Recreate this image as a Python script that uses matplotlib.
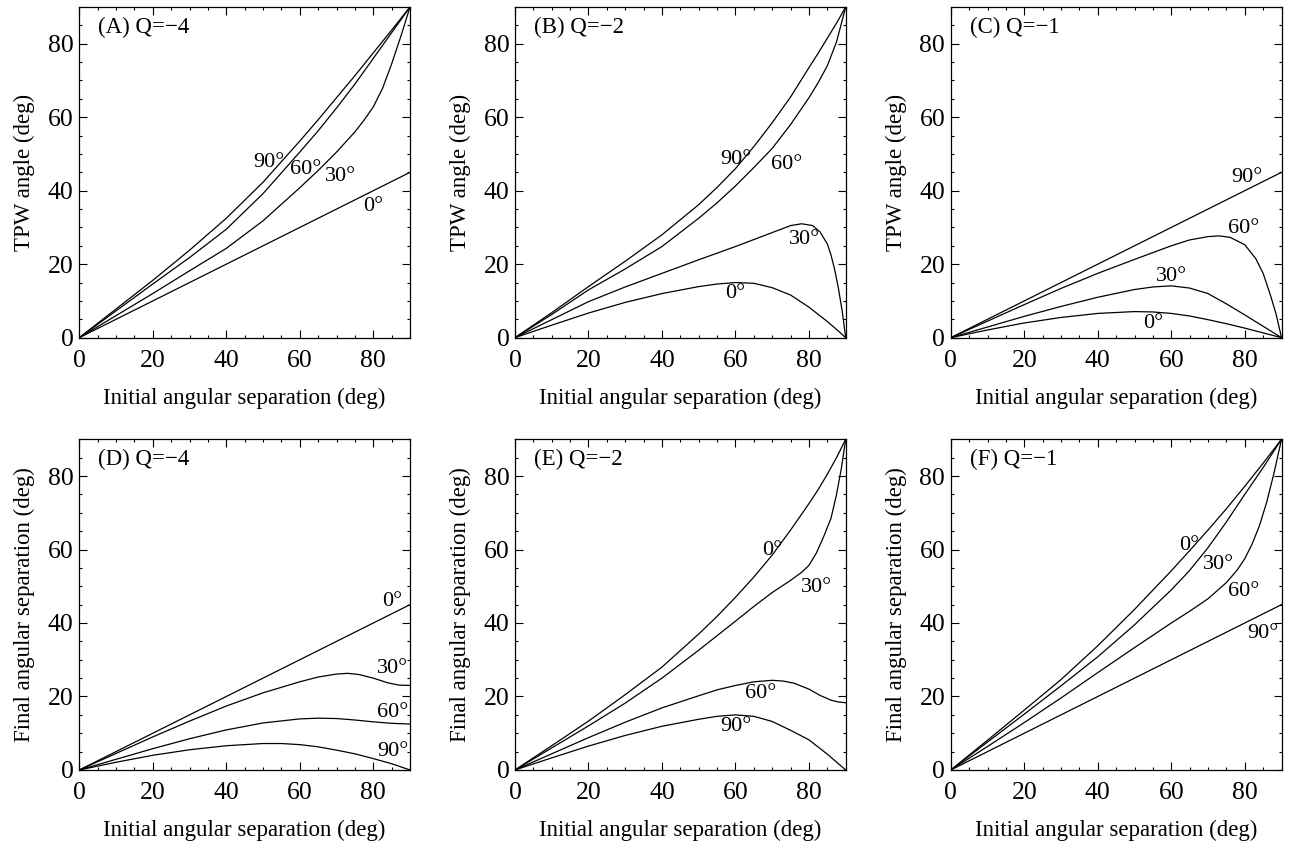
import numpy as np
import matplotlib
matplotlib.use('Agg')
import matplotlib.pyplot as plt
from matplotlib.ticker import MultipleLocator

plt.rcParams['font.family'] = ['Liberation Serif', 'DejaVu Serif']
plt.rcParams['font.size'] = 16.5

# ---- (A) Q=-4 : TPW angle ----
A0_x = [0, 90]
A0_y = [0, 45]
A30_x = [0, 10, 20, 30, 40, 50, 60, 65, 70, 75, 77.5, 80, 82.5, 85, 87.5, 90]
A30_y = [0, 6.0, 12.0, 18.2, 24.3, 31.8, 40.8, 45.5, 50.5, 56.0, 59.2, 62.8, 67.8, 74.5, 82.0, 90]
A60_x = [0, 10, 20, 30, 40, 50, 60, 65, 70, 75, 80, 85, 90]
A60_y = [0, 7.3, 14.6, 21.8, 29.5, 39.2, 50.5, 56.3, 62.5, 69.0, 76.0, 83.0, 90]
A90_x = [0, 10, 20, 30, 40, 50, 60, 65, 70, 75, 80, 85, 90]
A90_y = [0, 7.8, 15.6, 23.8, 32.5, 42.3, 53.5, 59.3, 65.3, 71.3, 77.5, 83.7, 90]

# ---- (B) Q=-2 : TPW angle ----
B0_x = [0, 10, 20, 30, 40, 50, 55, 60, 65, 70, 75, 80, 85, 88, 90]
B0_y = [0, 3.4, 6.7, 9.6, 12.0, 13.9, 14.6, 15.0, 14.8, 13.6, 11.6, 8.3, 4.4, 1.8, 0]
B30_x = [0, 10, 20, 30, 40, 50, 60, 70, 75, 78, 81, 83, 85, 86, 87, 88, 89, 90]
B30_y = [0, 4.9, 9.8, 13.8, 17.5, 21.2, 24.8, 28.6, 30.5, 31.0, 30.5, 28.8, 25.5, 22.5, 18.5, 13.5, 7.5, 0]
B60_x = [0, 10, 20, 30, 40, 50, 55, 60, 65, 70, 75, 80, 82.5, 85, 87.5, 90]
B60_y = [0, 6.3, 13.0, 18.7, 24.8, 32.5, 36.7, 41.3, 46.3, 51.5, 58.0, 65.3, 69.4, 74.0, 80.5, 90]
B90_x = [0, 10, 20, 30, 40, 50, 55, 60, 65, 70, 75, 80, 82.5, 85, 87.5, 90]
B90_y = [0, 6.8, 13.9, 20.8, 28.0, 36.2, 40.9, 46.0, 52.0, 58.5, 65.5, 73.5, 77.4, 81.5, 85.6, 90]

# ---- (C) Q=-1 : TPW angle ----
C0_x = [0, 10, 20, 30, 40, 50, 55, 60, 65, 70, 75, 80, 85, 90]
C0_y = [0, 2.1, 4.0, 5.5, 6.6, 7.1, 7.0, 6.6, 5.9, 4.9, 3.8, 2.6, 1.3, 0]
C30_x = [0, 10, 20, 30, 40, 50, 55, 60, 65, 70, 75, 80, 85, 90]
C30_y = [0, 2.9, 5.8, 8.5, 11.0, 13.1, 13.8, 14.1, 13.5, 12.0, 9.2, 6.2, 3.1, 0]
C60_x = [0, 10, 20, 30, 40, 50, 60, 65, 70, 73, 76, 80, 83, 85, 87, 88.5, 90]
C60_y = [0, 4.5, 9.0, 13.4, 17.5, 21.3, 25.0, 26.6, 27.5, 27.7, 27.3, 25.3, 21.5, 17.5, 11.5, 6.5, 0]
C90_x = [0, 90]
C90_y = [0, 45]

# ---- (D) Q=-4 : final angular separation ----
D0_x = [0, 90]
D0_y = [0, 45]
D30_x = [0, 10, 20, 30, 40, 50, 60, 65, 70, 73, 76, 80, 84, 87, 90]
D30_y = [0, 4.5, 9.0, 13.3, 17.4, 21.0, 24.0, 25.3, 26.1, 26.3, 26.0, 25.0, 23.7, 23.1, 23.0]
D60_x = [0, 10, 20, 30, 40, 50, 60, 65, 70, 75, 80, 85, 90]
D60_y = [0, 2.9, 5.8, 8.5, 10.9, 12.8, 13.9, 14.1, 14.0, 13.6, 13.1, 12.7, 12.5]
D90_x = [0, 10, 20, 30, 40, 50, 55, 60, 65, 70, 75, 80, 85, 90]
D90_y = [0, 2.1, 4.0, 5.5, 6.6, 7.2, 7.2, 6.9, 6.3, 5.4, 4.4, 3.1, 1.7, 0]

# ---- (E) Q=-2 : final angular separation ----
E0_x = [0, 10, 20, 30, 40, 50, 55, 60, 65, 70, 75, 80, 82.5, 85, 87.5, 90]
E0_y = [0, 6.6, 13.3, 20.5, 28.0, 37.0, 41.8, 47.0, 52.5, 58.5, 65.3, 72.5, 76.3, 80.5, 85.0, 90]
E30_x = [0, 10, 20, 30, 40, 50, 60, 65, 70, 75, 78, 80, 82, 84, 86, 87.5, 88.8, 90]
E30_y = [0, 6.0, 12.0, 18.2, 25.0, 32.6, 40.5, 44.5, 48.3, 51.6, 53.8, 55.7, 59.0, 63.5, 68.5, 75.0, 82.0, 90]
E60_x = [0, 10, 20, 30, 40, 50, 55, 60, 65, 70, 73, 76, 80, 83, 86, 88, 90]
E60_y = [0, 4.4, 8.8, 13.0, 16.9, 20.2, 21.8, 23.0, 24.0, 24.4, 24.2, 23.6, 22.0, 20.3, 19.0, 18.5, 18.3]
E90_x = [0, 10, 20, 30, 40, 50, 55, 60, 65, 70, 75, 80, 85, 90]
E90_y = [0, 3.3, 6.5, 9.4, 11.9, 13.8, 14.6, 15.0, 14.6, 13.2, 10.8, 8.2, 4.3, 0]

# ---- (F) Q=-1 : final angular separation ----
F0_x = [0, 10, 20, 30, 40, 50, 60, 65, 70, 75, 80, 85, 90]
F0_y = [0, 8.1, 16.3, 24.6, 33.8, 43.7, 54.2, 59.7, 65.3, 71.1, 77.2, 83.5, 90]
F30_x = [0, 10, 20, 30, 40, 50, 60, 65, 70, 75, 80, 85, 90]
F30_y = [0, 7.6, 15.2, 22.9, 30.8, 39.5, 49.0, 54.3, 60.5, 67.5, 75.0, 82.3, 90]
F60_x = [0, 10, 20, 30, 40, 50, 60, 65, 70, 75, 78, 80, 82, 84, 86, 88, 89, 90]
F60_y = [0, 6.4, 12.9, 19.6, 26.5, 33.3, 40.0, 43.2, 46.6, 51.0, 54.5, 57.5, 61.5, 66.5, 73.0, 81.0, 85.5, 90]
F90_x = [0, 90]
F90_y = [0, 45]

panel_titles = ['(A) Q=\u22124', '(B) Q=\u22122', '(C) Q=\u22121',
                '(D) Q=\u22124', '(E) Q=\u22122', '(F) Q=\u22121']
curve_names = ['0\u00b0', '30\u00b0', '60\u00b0', '90\u00b0']
xlabel = 'Initial angular separation (deg)'
ylabels = ['TPW angle (deg)', 'Final angular separation (deg)']

panels = [
    [(A0_x, A0_y), (A30_x, A30_y), (A60_x, A60_y), (A90_x, A90_y)],
    [(B0_x, B0_y), (B30_x, B30_y), (B60_x, B60_y), (B90_x, B90_y)],
    [(C0_x, C0_y), (C30_x, C30_y), (C60_x, C60_y), (C90_x, C90_y)],
    [(D0_x, D0_y), (D30_x, D30_y), (D60_x, D60_y), (D90_x, D90_y)],
    [(E0_x, E0_y), (E30_x, E30_y), (E60_x, E60_y), (E90_x, E90_y)],
    [(F0_x, F0_y), (F30_x, F30_y), (F60_x, F60_y), (F90_x, F90_y)],
]

# label positions (data coords, centre) for 0, 30, 60, 90 deg
label_pos = [
    [(80, 35.6), (71, 43.8), (61.6, 45.9), (51.5, 47.7)],
    [(59.8, 12.1), (78.9, 26.6), (73.9, 47.2), (60, 48.6)],
    [(55.1, 3.9), (60.1, 16.6), (79.8, 29.6), (80.5, 43.6)],
    [(85.2, 45.8), (85.2, 27.7), (85.2, 15.7), (85.2, 5.0)],
    [(70, 59.8), (82, 49.7), (66.8, 20.7), (60, 11.8)],
    [(64.8, 61), (72.8, 55.8), (79.8, 48.5), (85, 37.2)],
]

fig = plt.figure(figsize=(12.89, 8.48), dpi=100)
lefts = [0.0615, 0.3995, 0.7376]
bottoms = [0.6018, 0.092]
w, h = 0.2566, 0.390

for i in range(6):
    row, col = divmod(i, 3)
    ax = fig.add_axes([lefts[col], bottoms[row], w, h])
    for (x, y) in panels[i]:
        ax.plot(x, y, color='black', linewidth=0.9)
    for name, (lx, ly) in zip(curve_names, label_pos[i]):
        ax.text(lx, ly, name, ha='center', va='center', fontsize=16)
    ax.text(5.2, 84.4, panel_titles[i], ha='left', va='center', fontsize=16.5)
    ax.set_xlim(0, 90)
    ax.set_ylim(0, 90)
    ax.xaxis.set_major_locator(MultipleLocator(20))
    ax.xaxis.set_minor_locator(MultipleLocator(5))
    ax.yaxis.set_major_locator(MultipleLocator(20))
    ax.yaxis.set_minor_locator(MultipleLocator(5))
    ax.tick_params(which='both', direction='in', top=True, right=True,
                   width=0.8, labelsize=18.5)
    ax.tick_params(which='major', length=5.5)
    ax.tick_params(axis='x', which='major', pad=9)
    ax.tick_params(axis='y', which='major', pad=4)
    ax.tick_params(which='minor', length=2.5)
    for s in ax.spines.values():
        s.set_linewidth(0.9)
    ax.set_xlabel(xlabel, fontsize=16.5, labelpad=11)
    ax.set_ylabel(ylabels[row], fontsize=16.5, labelpad=9)

fig.savefig('out.png', dpi=100)
